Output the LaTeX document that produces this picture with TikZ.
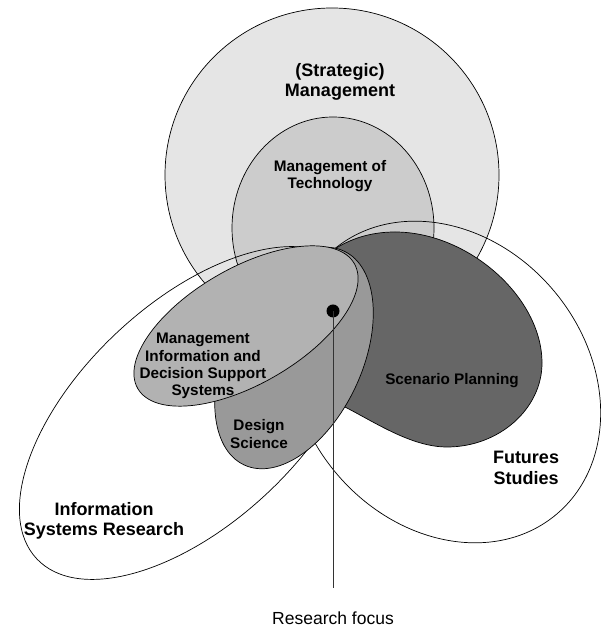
\documentclass[tikz,border=0pt]{standalone}
\usepackage{fontspec}
\setmainfont{Liberation Sans}
\begin{document}
\begin{tikzpicture}[x=1pt,y=1pt,
  outline/.style={draw=black,line width=0.7pt},
  biglabel/.style={font=\bfseries\fontsize{18}{20.5}\selectfont,align=center,inner sep=0pt},
  smalllabel/.style={font=\bfseries\fontsize{15.3}{17.3}\selectfont,align=center,inner sep=0pt}]
\definecolor{stratgray}{gray}{0.90}
\definecolor{techgray}{gray}{0.80}
\definecolor{misgray}{gray}{0.70}
\definecolor{dsgray}{gray}{0.60}
\definecolor{spgray}{gray}{0.40}
\useasboundingbox (0,0) rectangle (600,628);

% (Strategic) Management and Management of Technology
\filldraw[outline,fill=stratgray] (332,453) circle (167);
\filldraw[outline,fill=techgray] (333,400) ellipse (101 and 111);

% Information Systems Research and Futures Studies (outlines only)
\draw[outline,rotate around={43.2:(192,215)}] (192,215) ellipse (213 and 110);
\draw[outline,rotate around={-49.8:(445,246)}] (445,246) ellipse (173 and 142);

% Scenario Planning: egg-shaped region
\filldraw[outline,fill=spgray]
  (333,378) .. controls (350,389) and (370,396) .. (395,396)
            .. controls (468,396) and (542,331) .. (542,265)
            .. controls (542,219) and (499,181) .. (447,181)
            .. controls (412,181) and (376,205) .. (345,221)
            .. controls (300,245) and (300,350) .. cycle;

% Design Science
\filldraw[outline,fill=dsgray,rotate around={65:(294,270)}] (294,270) ellipse (118 and 68);

% Management Information and Decision Support Systems
\filldraw[outline,fill=misgray,rotate around={30:(246,302)}] (246,302) ellipse (125 and 58);

% labels
\node[biglabel] (strat) at (340,546) {(Strategic)\\Management};
\node[smalllabel] (tech) at (330,452) {Management of\\Technology};
\node[smalllabel] (mis) at (203,262) {Management\\Information and\\Decision Support\\Systems};
\node[smalllabel] (ds) at (259,194) {Design\\Science};
\node[smalllabel] (sp) at (452,247) {Scenario Planning};
\node[biglabel] (fs) at (526,160) {Futures\\Studies};
\node[biglabel] (isr) at (104,107) {Information\\Systems Research};

% research focus marker
\node[circle,fill=black,inner sep=0pt,minimum size=13pt] (focus) at (333,317) {};
\coordinate (focusend) at (333,40);
\draw[line width=1pt,color=black!80] (focus.center) -- (focusend);
\node[font=\fontsize{17.5}{20}\selectfont,inner sep=0pt] (focuslabel) at (333,10) {Research focus};
\end{tikzpicture}
\end{document}
